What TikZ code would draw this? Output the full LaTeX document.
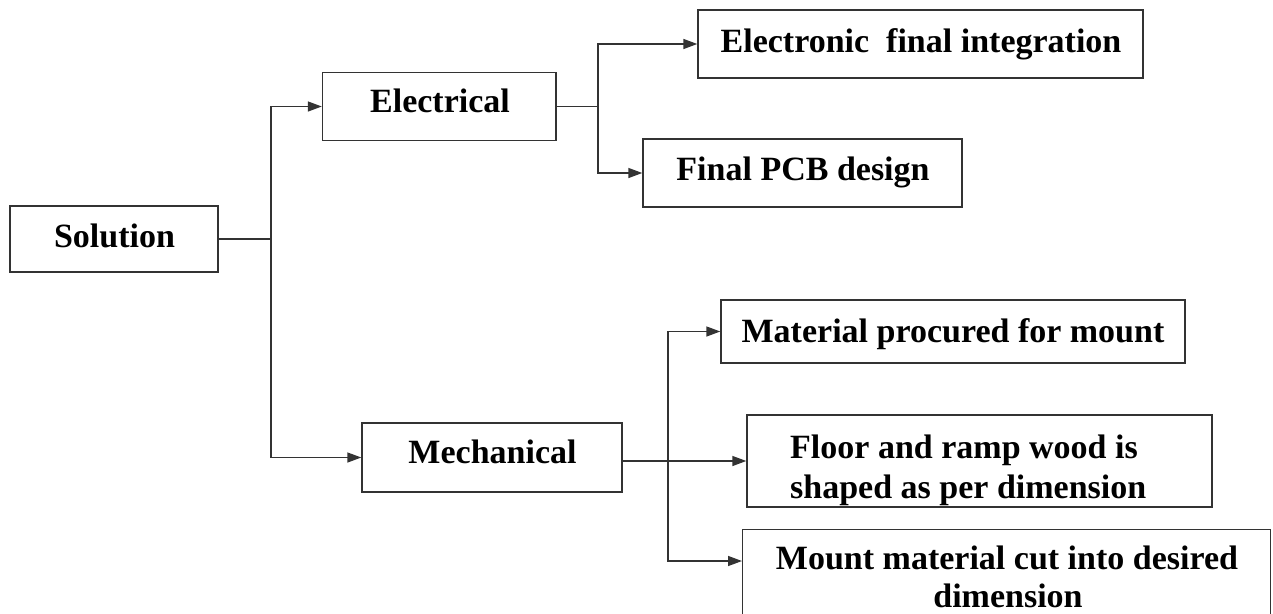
\documentclass[tikz,border=0pt]{standalone}
\usepackage{fontspec}
\setmainfont{Liberation Serif}
\usetikzlibrary{arrows.meta}
\tikzset{
  box/.style={draw=black!80, line width=1.4pt, rectangle, inner sep=0pt, fill=none},
  lbl/.style={anchor=base, inner sep=0pt, font=\fontsize{34}{41}\selectfont\bfseries},
  lbll/.style={anchor=base west, inner sep=0pt, font=\fontsize{34}{41}\selectfont\bfseries},
  conn/.style={draw=black!80, line width=1.4pt},
  arr/.style={conn, -{Triangle[length=14pt,width=10pt]}}
}
\begin{document}
\begin{tikzpicture}[x=1pt,y=-1pt]
\useasboundingbox (0,0) rectangle (1273,613);
\clip (0,0) rectangle (1273,613);
% boxes
\node[box, minimum width=208pt, minimum height=66pt] (sol) at (114,239) {};
\node[box, minimum width=233.5pt, minimum height=68pt] (elec) at (439.25,106.5) {};
\node[box, minimum width=260pt, minimum height=69pt] (mech) at (492,457.5) {};
\node[box, minimum width=445pt, minimum height=68pt] (eint) at (920.5,44) {};
\node[box, minimum width=319pt, minimum height=68pt] (pcb) at (802.5,173) {};
\node[box, minimum width=464pt, minimum height=63pt] (mat) at (953,331.5) {};
\node[box, minimum width=465pt, minimum height=92pt] (floor) at (979.5,461) {};
\node[box, minimum width=528pt, minimum height=120pt, anchor=north west] (mount) at (742,529) {};
% texts
\node[lbl] (tsol) at (114.5,247) {Solution};
\node[lbl] (telec) at (440,112.7) {Electrical};
\node[lbl] (tmech) at (492.5,463) {Mechanical};
\node[lbl] (teint) at (921,52) {Electronic\ \ final integration};
\node[lbl] (tpcb) at (803,180) {Final PCB design};
\node[lbl] (tmat) at (953,342) {Material procured for mount};
\node[lbll] (tfloora) at (790,458) {Floor and ramp wood is};
\node[lbll] (tfloorb) at (790,498) {shaped as per dimension};
\node[lbl] (tmounta) at (1007,569) {Mount material cut into desired};
\node[lbl] (tmountb) at (1008,607) {dimension};
% connectors
\coordinate (j1) at (271,239);
\coordinate (j2) at (598,106.7);
\coordinate (j3) at (668,461);
\draw[conn] (sol.east) -- (j1);
\draw[arr] (j1) |- (elec.west);
\draw[arr] (j1) |- (mech.west);
\draw[conn] (elec.east |- j2) -- (j2);
\draw[arr] (j2) |- (eint.west);
\draw[arr] (j2) |- (pcb.west);
\draw[arr] (mech.east |- floor.west) -- (floor.west);
\draw[arr] (j3) |- (mat.west);
\draw[arr] (j3) |- ([yshift=-32pt]mount.north west);
\end{tikzpicture}
\end{document}
